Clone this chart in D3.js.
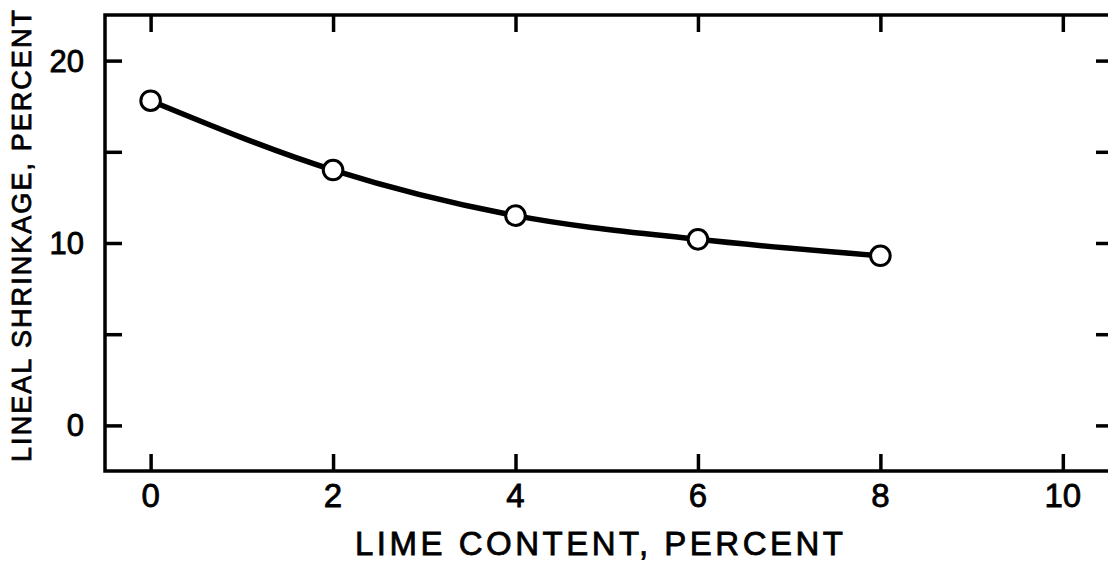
<!DOCTYPE html>
<html>
<head>
<meta charset="utf-8">
<script src="https://cdn.jsdelivr.net/npm/d3@7"></script>
<style>
  html, body { margin: 0; padding: 0; background: #fff; }
  svg { display: block; }
  text { font-family: "Liberation Sans", "DejaVu Sans", sans-serif; fill: #000; stroke: #000; stroke-width: 0.8px; }
</style>
</head>
<body>
<svg id="chart" width="1108" height="565"></svg>
<script>
// Lime content (percent) vs. lineal shrinkage (percent)
const limeContent = [0, 2, 4, 6, 8];
const shrinkage = [17.8, 14.0, 11.5, 10.2, 9.3];

const xTicks = [0, 2, 4, 6, 8, 10];
const xTickLabels = ["0", "2", "4", "6", "8", "10"];
const yTicks = [0, 5, 10, 15, 20];
const yTickLabels = { 0: "0", 10: "10", 20: "20" };

const xTitle = "LIME CONTENT, PERCENT";
const yTitle = "LINEAL SHRINKAGE, PERCENT";

const svg = d3.select("#chart");

const x = d3.scaleLinear().domain([-0.5, 10.55]).range([105, 1113]);
const y = d3.scaleLinear().domain([-2.5, 22.5]).range([471, 15]);

const tickLen = 17;
const ink = "#000";

// Frame
svg.append("rect")
  .attr("x", x(-0.5)).attr("y", y(22.5))
  .attr("width", x(10.55) - x(-0.5))
  .attr("height", y(-2.5) - y(22.5))
  .attr("fill", "none").attr("stroke", ink).attr("stroke-width", 3.5);

// Inward ticks on all four sides via d3 axes
const bottomAxis = d3.axisBottom(x).tickValues(xTicks).tickSizeInner(-tickLen).tickSizeOuter(0).tickFormat("");
const topAxis = d3.axisTop(x).tickValues(xTicks).tickSizeInner(-tickLen).tickSizeOuter(0).tickFormat("");
const leftAxis = d3.axisLeft(y).tickValues(yTicks).tickSizeInner(-tickLen).tickSizeOuter(0).tickFormat("");
const rightAxis = d3.axisRight(y).tickValues(yTicks).tickSizeInner(-tickLen).tickSizeOuter(0).tickFormat("");

function styleAxis(g) {
  g.select(".domain").remove();
  g.selectAll(".tick line").attr("stroke", ink).attr("stroke-width", 3.5);
}
svg.append("g").attr("transform", `translate(0,${y(-2.5)})`).call(bottomAxis).call(styleAxis);
svg.append("g").attr("transform", `translate(0,${y(22.5)})`).call(topAxis).call(styleAxis);
svg.append("g").attr("transform", `translate(${x(-0.5)},0)`).call(leftAxis).call(styleAxis);
svg.append("g").attr("transform", `translate(${x(10.55)},0)`).call(rightAxis).call(styleAxis);

// Tick labels
svg.append("g").selectAll("text")
  .data(xTicks)
  .join("text")
  .attr("x", d => x(d))
  .attr("y", 507)
  .attr("text-anchor", "middle")
  .attr("font-size", 33)
  .text((d, i) => xTickLabels[i]);

svg.append("g").selectAll("text")
  .data(yTicks.filter(d => yTickLabels[d] !== undefined))
  .join("text")
  .attr("x", 84)
  .attr("y", d => y(d) + 11)
  .attr("text-anchor", "end")
  .attr("font-size", 31)
  .text(d => yTickLabels[d]);

// Axis titles
svg.append("text")
  .attr("x", 599).attr("y", 555)
  .attr("text-anchor", "middle")
  .attr("font-size", 33)
  .attr("textLength", 488).attr("lengthAdjust", "spacing")
  .text(xTitle);

svg.append("text")
  .attr("transform", `translate(31,236) rotate(-90)`)
  .attr("text-anchor", "middle")
  .attr("font-size", 27)
  .attr("textLength", 452).attr("lengthAdjust", "spacing")
  .text(yTitle);

// Smooth curve through the measurements
const line = d3.line()
  .x((d, i) => x(limeContent[i]))
  .y(d => y(d))
  .curve(d3.curveMonotoneX);

svg.append("path")
  .datum(shrinkage)
  .attr("d", line)
  .attr("fill", "none")
  .attr("stroke", ink)
  .attr("stroke-width", 5.5)
  .attr("stroke-linecap", "round");

// Open circle markers
svg.append("g").selectAll("circle")
  .data(shrinkage)
  .join("circle")
  .attr("cx", (d, i) => x(limeContent[i]))
  .attr("cy", d => y(d))
  .attr("r", 9.8)
  .attr("fill", "#fff")
  .attr("stroke", ink)
  .attr("stroke-width", 3);
</script>
</body>
</html>
